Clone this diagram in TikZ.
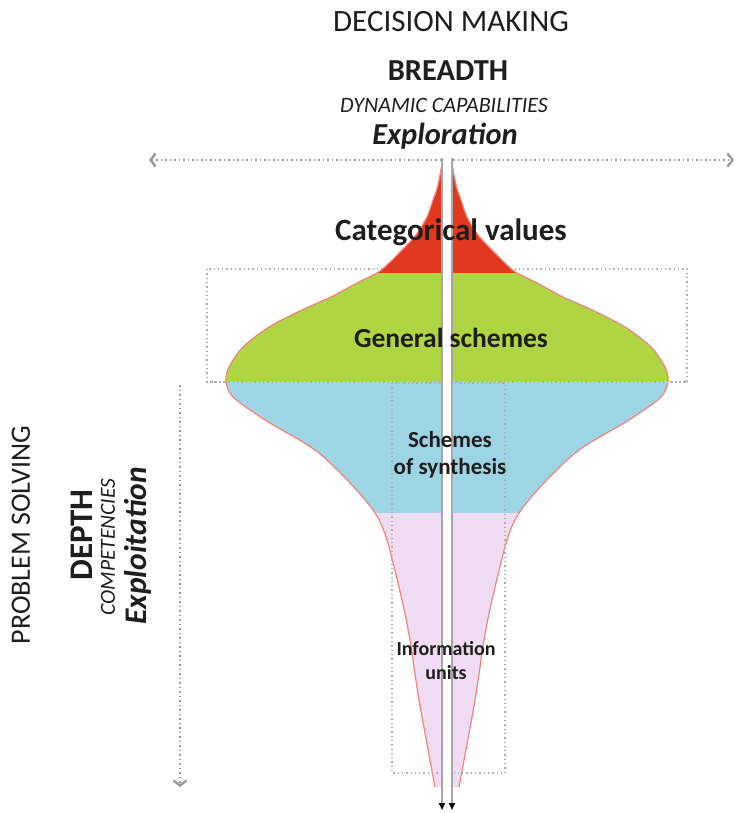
\documentclass[tikz,border=0pt]{standalone}
\usepackage{fontspec}
\setmainfont{Carlito}
\usetikzlibrary{arrows.meta}
\definecolor{cred}{HTML}{E2381F}
\definecolor{cgreen}{HTML}{AFD545}
\definecolor{cblue}{HTML}{9DD5E5}
\definecolor{cpink}{HTML}{F1DDF3}
\definecolor{cedge}{HTML}{F4837A}
\definecolor{cdot}{HTML}{9A9A9A}
\definecolor{ctext}{HTML}{1E1E1E}
\tikzset{
  dotline/.style={cdot, line width=1.8pt, dash pattern=on 1.5pt off 3pt},
  dotbox/.style={cdot!80, line width=1.3pt, dash pattern=on 1.3pt off 3pt},
  chev/.tip={Straight Barb[length=5pt,width=13pt,line width=2.4pt]},
  axisarrow/.style={draw=gray!70, line width=2.2pt, -{Triangle[black,length=7pt,width=6pt]}},
  lbl/.style={text=ctext, inner sep=0pt, align=center},
  lpath/.style={insert path={-- plot[smooth] coordinates {(443,158) (438,185) (433,200) (427,217) (416,235) (402,250) (387,265) (377,273) (357,283) (331,297) (302,310) (269,327) (243,347) (229,367) (226,381) (233,397) (265,420) (315,450) (350,483) (375,513) (387,540) (402,600) (410,640) (419,700) (435,787)}}},
  rpath/.style={insert path={-- plot[smooth] coordinates {(459,787) (475,700) (484,640) (492,600) (507,540) (519,513) (544,483) (579,450) (629,420) (661,397) (668,381) (665,367) (651,347) (625,327) (592,310) (563,297) (537,283) (517,273) (507,265) (492,250) (478,235) (467,217) (461,200) (456,185) (451,158)}}},
}
\begin{document}
\begin{tikzpicture}[x=1pt,y=-1pt]
\useasboundingbox (0,0) rectangle (734,813);
% top labels
\node[lbl, font=\fontsize{31}{34}\selectfont] (dm) at (451,22) {DECISION MAKING};
\node[lbl, font=\fontsize{30.5}{34}\selectfont\bfseries] (br) at (448,71) {BREADTH};
\node[lbl, font=\fontsize{22}{26}\selectfont\itshape] (dc) at (444,105) {DYNAMIC CAPABILITIES};
\node[lbl, font=\fontsize{30.5}{34}\selectfont\bfseries\itshape] (ex) at (445,136) {Exploration};
% left rotated labels
\node[lbl, rotate=90, font=\fontsize{28}{32}\selectfont] (ps) at (21,535) {PROBLEM SOLVING};
\node[lbl, rotate=90, font=\fontsize{33}{36}\selectfont\bfseries] (dp) at (82,535) {DEPTH};
\node[lbl, rotate=90, font=\fontsize{21.5}{24}\selectfont\itshape] (co) at (108,547) {COMPETENCIES};
\node[lbl, rotate=90, font=\fontsize{31.5}{34}\selectfont\bfseries\itshape] (xp) at (138,546) {Exploitation};
% dotted axes
\coordinate (hl) at (149,160);
\coordinate (hr) at (734,160);
\coordinate (vt) at (180,385);
\coordinate (vb) at (180,787);
\draw[dotline, {chev}-{chev}] (hl) -- (hr);
\draw[dotline, -{chev}] (vt) -- (vb);
% outer dotted box (behind)
\draw[dotbox] (207,269) rectangle (687,382);
% coloured bands
\begin{scope}\clip (0,150) rectangle (734,273.5); \fill[cred] (443,158) [lpath] [rpath] -- cycle; \end{scope}
\begin{scope}\clip (0,273) rectangle (734,381.5); \fill[cgreen] (443,158) [lpath] [rpath] -- cycle; \end{scope}
\begin{scope}\clip (0,381) rectangle (734,513.5); \fill[cblue] (443,158) [lpath] [rpath] -- cycle; \end{scope}
\begin{scope}\clip (0,513) rectangle (734,800); \fill[cpink] (443,158) [lpath] [rpath] -- cycle; \end{scope}
% outline
\draw[cedge, line width=1.2pt] (443,158) [lpath];
\draw[cedge, line width=1.2pt] (459,787) [rpath];
% dotted lines over the shape
\draw[dotbox] (207,382) -- (687,382);
\draw[dotbox] (392,383) rectangle (505,773);
% central double arrow
\fill[white] (442,158) rectangle (452,800);
\coordinate (lt) at (442,158);
\coordinate (lb) at (442,810);
\coordinate (rt) at (452,158);
\coordinate (rb) at (452,810);
\draw[axisarrow] (lt) -- (lb);
\draw[axisarrow] (rt) -- (rb);
% band labels
\node[lbl, font=\fontsize{31}{34}\selectfont\bfseries] (cv) at (451,232) {Categorical values};
\node[lbl, font=\fontsize{27.5}{30}\selectfont\bfseries] (gs) at (451,338) {General schemes};
\node[lbl, font=\fontsize{23}{27}\selectfont\bfseries] (ss) at (450,455) {Schemes\\of synthesis};
\node[lbl, font=\fontsize{20}{24}\selectfont\bfseries] (iu) at (446,661) {Information\\units};
\end{tikzpicture}
\end{document}
